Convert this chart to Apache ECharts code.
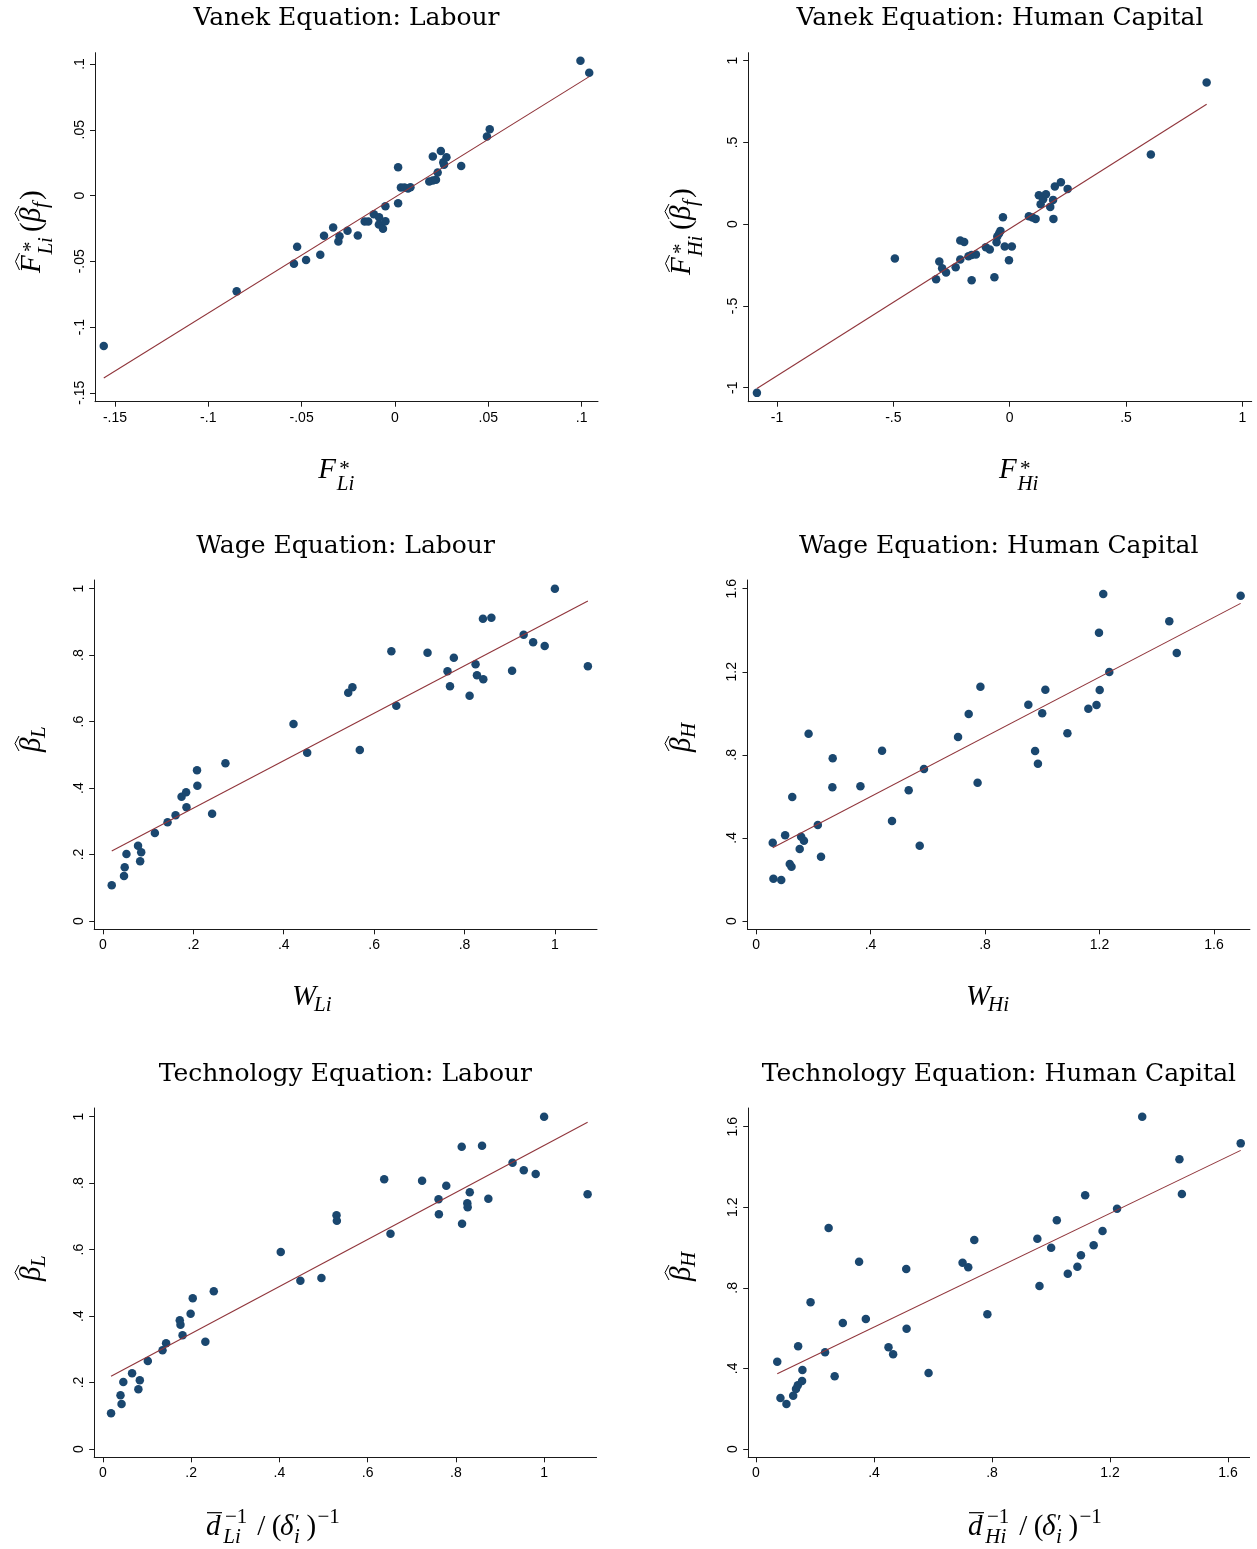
<!DOCTYPE html>
<html>
<head>
<meta charset="utf-8">
<script src="https://cdn.jsdelivr.net/npm/echarts@6/dist/echarts.min.js"></script>
<style>
  html, body { margin: 0; padding: 0; background: #fff; }
  #chart { width: 1257px; height: 1549px; }
</style>
</head>
<body>
<div id="chart"></div>
<script>
// ---------- data ----------
// Vanek equation, labour: actual vs. predicted factor content
const vanekLabourActual = [-0.156,-0.0848,-0.0541,-0.0524,-0.0476,-0.0400,-0.0380,-0.0331,-0.0297,-0.0303,-0.0254,-0.0199,-0.0162,-0.0143,-0.0113,-0.0085,-0.0086,-0.0064,-0.0051,-0.0051,0.0017,0.0017,0.0032,0.0051,0.0070,0.0083,0.0184,0.0203,0.0220,0.0229,0.0203,0.0246,0.0259,0.0263,0.0276,0.0355,0.0493,0.0508,0.0994,0.1041];
const vanekLabourPredicted = [-0.1144,-0.0729,-0.0519,-0.0390,-0.0491,-0.0451,-0.0306,-0.0243,-0.0309,-0.0349,-0.0268,-0.0304,-0.0197,-0.0197,-0.0142,-0.0165,-0.0220,-0.0253,-0.0195,-0.0081,-0.0058,0.0215,0.0061,0.0061,0.0053,0.0063,0.0106,0.0114,0.0119,0.0175,0.0296,0.0339,0.0253,0.0233,0.0291,0.0225,0.0448,0.0504,0.1025,0.0934];
const vanekLabourFit = [-0.0013, 0.881]; // intercept, slope

// Vanek equation, human capital
const vanekHumanActual = [-1.0863,-0.4935,-0.3163,-0.3025,-0.2903,-0.2735,-0.2322,-0.2124,-0.2124,-0.1956,-0.1772,-0.1635,-0.1635,-0.1452,-0.1024,-0.0856,-0.0657,-0.0565,-0.0535,-0.0458,-0.0397,-0.0290,-0.0214,-0.0031,0.0092,0.0825,0.0978,0.1115,0.1253,0.1329,0.1436,0.1558,0.1742,0.1864,0.1879,0.1940,0.2200,0.2490,0.6066,0.8464];
const vanekHumanPredicted = [-1.0316,-0.2100,-0.3364,-0.2283,-0.2691,-0.2956,-0.2630,-0.2161,-0.0999,-0.1081,-0.1957,-0.3425,-0.1876,-0.1855,-0.1407,-0.1550,-0.3242,-0.1101,-0.0754,-0.0571,-0.0408,0.0428,-0.1366,-0.2202,-0.1366,0.0489,0.0408,0.0326,0.1774,0.1223,0.1529,0.1835,0.1060,0.1488,0.0326,0.2304,0.2569,0.2161,0.4261,0.8665];
const vanekHumanFit = [-0.0276, 0.8998];

// Wage equation, labour
const wageLabourW = [0.0194,0.0466,0.0481,0.0520,0.0776,0.0823,0.0846,0.1149,0.1429,0.1607,0.1739,0.1840,0.1848,0.2081,0.2089,0.2415,0.2710,0.4216,0.4519,0.5427,0.5520,0.5683,0.6382,0.6491,0.7182,0.7624,0.7679,0.7764,0.8113,0.8245,0.8276,0.8408,0.8416,0.8595,0.9053,0.9309,0.9519,0.9775,1.0,1.0730];
const wageLabourBeta = [0.1073,0.1354,0.1615,0.2016,0.2267,0.1795,0.2066,0.2648,0.2969,0.3180,0.3741,0.3872,0.3420,0.4534,0.4072,0.3230,0.4744,0.5928,0.5065,0.6871,0.7031,0.5146,0.8114,0.6479,0.8074,0.7513,0.7061,0.7924,0.6780,0.7723,0.7392,0.9097,0.7272,0.9127,0.7533,0.8616,0.8385,0.8275,1.0,0.7663];
const wageLabourFit = [0.1967, 0.714];

// Wage equation, human capital
const wageHumanW = [0.0583,0.0608,0.0881,0.1017,0.1178,0.1240,0.1265,0.1526,0.1575,0.1674,0.1836,0.2158,0.2270,0.2667,0.2679,0.3647,0.4403,0.4750,0.5333,0.5718,0.5867,0.7057,0.7429,0.7740,0.7839,0.9513,0.9749,0.9848,0.9997,1.0108,1.0878,1.1609,1.1895,1.1981,1.2006,1.2130,1.2341,1.4437,1.4698,1.6930];
const wageHumanBeta = [0.3771,0.2038,0.1974,0.4125,0.2744,0.2616,0.5970,0.3466,0.4060,0.3868,0.9019,0.4622,0.3097,0.6436,0.7832,0.6484,0.8201,0.4815,0.6291,0.3627,0.7318,0.8859,0.9966,0.6660,1.1282,1.0416,0.8185,0.7575,0.9998,1.1138,0.9035,1.0223,1.0400,1.3882,1.1122,1.5744,1.1988,1.4428,1.2903,1.5664];
const wageHumanFit = [0.3111, 0.7196];

// Technology equation, labour
const techLabourD = [0.0183,0.0397,0.0421,0.0461,0.0660,0.0803,0.0835,0.1017,0.1350,0.1431,0.1741,0.1757,0.1804,0.1987,0.2035,0.2321,0.2512,0.4030,0.4475,0.4952,0.5294,0.5302,0.6375,0.6518,0.7234,0.7607,0.7615,0.7782,0.8132,0.8140,0.8259,0.8267,0.8315,0.8593,0.8736,0.9285,0.9539,0.9809,1.0,1.0986];
const techLabourBeta = [0.1073,0.1615,0.1354,0.2016,0.2277,0.1795,0.2066,0.2648,0.2969,0.3180,0.3872,0.3741,0.3420,0.4072,0.4534,0.3230,0.4744,0.5928,0.5065,0.5146,0.7031,0.6871,0.8114,0.6479,0.8074,0.7513,0.7061,0.7924,0.9097,0.6780,0.7392,0.7272,0.7723,0.9127,0.7533,0.8616,0.8385,0.8275,1.0,0.7663];
const techLabourFit = [0.2057, 0.7075];

// Technology equation, human capital
const techHumanD = [0.0721,0.0829,0.1033,0.1261,0.1357,0.1417,0.1429,0.1562,0.1574,0.1850,0.2342,0.2462,0.2667,0.2943,0.3495,0.3724,0.4492,0.4649,0.5093,0.5105,0.5850,0.7003,0.7195,0.7400,0.7844,0.9538,0.9610,1.0006,1.0198,1.0570,1.0895,1.1015,1.1159,1.1447,1.1748,1.2240,1.3093,1.4354,1.4438,1.6432];
const techHumanBeta = [0.4335,0.2531,0.2234,0.2647,0.2978,0.3160,0.5096,0.3375,0.3921,0.7280,0.4798,1.0970,0.3607,0.6254,0.9299,0.6453,0.5046,0.4699,0.8934,0.5973,0.3772,0.9249,0.9017,1.0374,0.6684,1.0440,0.8091,0.9993,1.1350,0.8703,0.9050,0.9613,1.2591,1.0109,1.0821,1.1929,1.6496,1.4378,1.2657,1.5172];
const techHumanFit = [0.323, 0.7056];

// tick values and their labels
const ticksVanekLabour = [-0.15, -0.1, -0.05, 0, 0.05, 0.1];
const labelsVanekLabour = ['-.15', '-.1', '-.05', '0', '.05', '.1'];
const ticksVanekHuman = [-1, -0.5, 0, 0.5, 1];
const labelsVanekHuman = ['-1', '-.5', '0', '.5', '1'];
const ticksUnit = [0, 0.2, 0.4, 0.6, 0.8, 1];
const labelsUnit = ['0', '.2', '.4', '.6', '.8', '1'];
const ticksWide = [0, 0.4, 0.8, 1.2, 1.6];
const labelsWide = ['0', '.4', '.8', '1.2', '1.6'];

const panelTitles = [
  'Vanek Equation: Labour', 'Vanek Equation: Human Capital',
  'Wage Equation: Labour', 'Wage Equation: Human Capital',
  'Technology Equation: Labour', 'Technology Equation: Human Capital'
];

// ---------- layout ----------
const SERIF = '"Liberation Serif", "Times New Roman", serif';
const HEAD = '"DejaVu Serif", "Liberation Serif", serif';
const SANS = '"Liberation Sans", Arial, sans-serif';
const MARKER = '#1a476f';
const FITLINE = '#90353b';
const AXIS = '#1a1a1a';

const panels = [
  { x: vanekLabourActual, y: vanekLabourPredicted, fit: vanekLabourFit,
    xt: ticksVanekLabour, xl: labelsVanekLabour, yt: ticksVanekLabour, yl: labelsVanekLabour,
    grid: { left: 95, top: 52.7, width: 503, height: 349 },
    xr: [-0.1607, 0.1088], yr: [-0.1568, 0.1086] },
  { x: vanekHumanActual, y: vanekHumanPredicted, fit: vanekHumanFit,
    xt: ticksVanekHuman, xl: labelsVanekHuman, yt: ticksVanekHuman, yl: labelsVanekHuman,
    grid: { left: 748.2, top: 52.7, width: 503.5, height: 349 },
    xr: [-1.1238, 1.040], yr: [-1.0856, 1.049] },
  { x: wageLabourW, y: wageLabourBeta, fit: wageLabourFit,
    xt: ticksUnit, xl: labelsUnit, yt: ticksUnit, yl: labelsUnit,
    grid: { left: 94.2, top: 580, width: 502.8, height: 349.3 },
    xr: [-0.0194, 1.0932], yr: [-0.025, 1.026] },
  { x: wageHumanW, y: wageHumanBeta, fit: wageHumanFit,
    xt: ticksWide, xl: labelsWide, yt: ticksWide, yl: labelsWide,
    grid: { left: 747.5, top: 580, width: 502.4, height: 349.3 },
    xr: [-0.0298, 1.7253], yr: [-0.04, 1.6419] },
  { x: techLabourD, y: techLabourBeta, fit: techLabourFit,
    xt: ticksUnit, xl: labelsUnit, yt: ticksUnit, yl: labelsUnit,
    grid: { left: 94.2, top: 1108, width: 502.4, height: 349.3 },
    xr: [-0.0199, 1.119], yr: [-0.025, 1.026] },
  { x: techHumanD, y: techHumanBeta, fit: techHumanFit,
    xt: ticksWide, xl: labelsWide, yt: ticksWide, yl: labelsWide,
    grid: { left: 748.2, top: 1108, width: 501.4, height: 349.3 },
    xr: [-0.0264, 1.6733], yr: [-0.0412, 1.6928] }
];

function labelFor(ticks, labels) {
  return function (v) {
    const i = ticks.findIndex(function (t) { return Math.abs(t - v) < 1e-9; });
    return i >= 0 ? labels[i] : '';
  };
}

function axisCommon(p, isY) {
  const ticks = isY ? p.yt : p.xt;
  const labels = isY ? p.yl : p.xl;
  const range = isY ? p.yr : p.xr;
  return {
    type: 'value',
    min: range[0],
    max: range[1],
    axisLine: { show: true, onZero: false, lineStyle: { color: AXIS, width: 1 } },
    axisTick: { show: true, length: 5, customValues: ticks, lineStyle: { color: AXIS, width: 1 } },
    axisLabel: {
      customValues: ticks,
      formatter: labelFor(ticks, labels),
      fontFamily: SANS, fontSize: 14, color: '#000',
      margin: isY ? 8 : 9,
      rotate: isY ? 90 : 0,
      hideOverlap: false
    },
    splitLine: { show: false }
  };
}

// ---------- math-style axis titles ----------
function piece(t, x, base, size, italic) {
  return {
    type: 'text', x: x, y: base - 0.3375 * size,
    style: {
      text: t,
      font: (italic ? 'italic ' : '') + size + 'px ' + SERIF,
      fill: '#000',
      textAlign: 'left', textVerticalAlign: 'middle',
      align: 'left', verticalAlign: 'middle'
    }
  };
}
function hat(x0, x1, base, h) {
  return { type: 'polyline', shape: { points: [[x0, base], [(x0 + x1) / 2, base - h], [x1, base]] },
           style: { stroke: '#000', lineWidth: 1, fill: 'none' } };
}
function bar(x0, x1, y) {
  return { type: 'line', shape: { x1: x0, y1: y, x2: x1, y2: y }, style: { stroke: '#000', lineWidth: 1.2 } };
}
function mathTitle(children, x, y, vertical) {
  return { type: 'group', x: x, y: y, rotation: vertical ? Math.PI / 2 : 0, children: children };
}

const M = 29, S = 21;
function fStar(sub) {
  return [piece('F', 0, 0, M, true), piece('*', 21, -3, S, false), piece(sub, 18.4, 11.7, S, true)];
}
function fHatBeta(sub, shift) {
  return [
    hat(3, 20, -22.5, 4), piece('F', 0, 0, M, true), piece('*', 21, -3, S, false), piece(sub, 18.4, 11.7, S, true),
    piece('(', 41 + shift, 0, M, false),
    hat(52 + shift, 67 + shift, -23, 4), piece('\u03B2', 51 + shift, 0, M, true),
    piece('f', 65 + shift, 7, S, true),
    piece(')', 73 + shift, 0, M, false)
  ];
}
function wSub(sub) {
  return [piece('W', 0, 0, M, true), piece(sub, 22, 5, S, true)];
}
function betaHat(sub) {
  return [hat(1, 16, -23, 4), piece('\u03B2', 0, 0, M, true), piece(sub, 14, 5, S, true)];
}
function dRatio(sub) {
  return [
    bar(1, 16, -24), piece('d', 0, 0, M, true),
    piece('\u22121', 19, -11.7, S, false), piece(sub, 17.3, 8.3, S, true),
    piece('/', 51.3, 0, M, false), piece('(', 65.7, 0, M, false),
    piece('\u03B4', 74, 0, M, true), piece('\u2032', 89, -6, S, false), piece('i', 88, 8.3, S, true),
    piece(')', 100.5, 0, M, false), piece('\u22121', 111.5, -11.7, S, false)
  ];
}

const graphics = [
  mathTitle(fStar('Li'), 318.3, 480, false),
  mathTitle(fStar('Hi'), 999, 480, false),
  mathTitle(wSub('Li'), 292, 1007.6, false),
  mathTitle(wSub('Hi'), 966, 1007.6, false),
  mathTitle(dRatio('Li'), 206, 1536.7, false),
  mathTitle(dRatio('Hi'), 968, 1536.7, false),
  mathTitle(fHatBeta('Li', 0), 42, 273, true),
  mathTitle(fHatBeta('Hi', 4), 692, 275, true),
  mathTitle(betaHat('L'), 42, 752, true),
  mathTitle(betaHat('H'), 692, 752, true),
  mathTitle(betaHat('L'), 42, 1281, true),
  mathTitle(betaHat('H'), 692, 1281, true)
];

// panel headings, centred over each plot region
panels.forEach(function (p, i) {
  graphics.push({
    type: 'text',
    x: p.grid.left + p.grid.width / 2,
    y: p.grid.top - 34,
    style: {
      text: panelTitles[i],
      font: '25px ' + HEAD,
      fill: '#000',
      textAlign: 'center', textVerticalAlign: 'middle',
      align: 'center', verticalAlign: 'middle'
    }
  });
});

// ---------- series ----------
const series = [];
panels.forEach(function (p, i) {
  const pts = p.x.map(function (v, k) { return [v, p.y[k]]; });
  const lo = Math.min.apply(null, p.x);
  const hi = Math.max.apply(null, p.x);
  series.push({
    type: 'scatter', xAxisIndex: i, yAxisIndex: i,
    data: pts, symbol: 'circle', symbolSize: 8.5,
    itemStyle: { color: MARKER, opacity: 1 },
    emphasis: { disabled: true }
  });
  series.push({
    type: 'line', xAxisIndex: i, yAxisIndex: i,
    data: [[lo, p.fit[0] + p.fit[1] * lo], [hi, p.fit[0] + p.fit[1] * hi]],
    symbol: 'none', lineStyle: { color: FITLINE, width: 1.1 },
    z: 3, emphasis: { disabled: true }
  });
});

const chart = echarts.init(document.getElementById('chart'), null, { renderer: 'canvas' });
chart.setOption({
  animation: false,
  backgroundColor: '#fff',
  grid: panels.map(function (p) { return Object.assign({ containLabel: false }, p.grid); }),
  xAxis: panels.map(function (p, i) { return Object.assign({ gridIndex: i }, axisCommon(p, false)); }),
  yAxis: panels.map(function (p, i) { return Object.assign({ gridIndex: i }, axisCommon(p, true)); }),
  series: series,
  graphic: { elements: graphics }
});
</script>
</body>
</html>
